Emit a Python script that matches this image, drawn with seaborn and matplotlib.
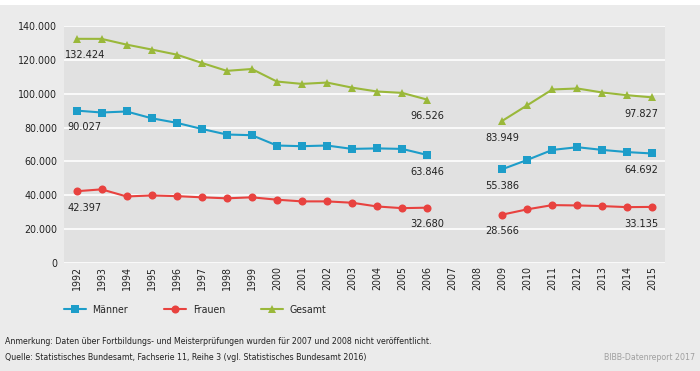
import numpy as np
import pandas as pd
import seaborn as sns
import matplotlib.pyplot as plt
from matplotlib.ticker import FuncFormatter

# Data (2007 and 2008 not published)
years = list(range(1992, 2016))
maenner = [90027, 88900, 89500, 85500, 82800, 79200, 75900, 75500, 69400, 69000, 69400, 67400,
           67700, 67400, 63846, None, None, 55386, 60900, 66800, 68400, 66800, 65500, 64692]
frauen = [42397, 43500, 39300, 39900, 39500, 38800, 38200, 38800, 37400, 36400, 36400, 35600,
          33400, 32400, 32680, None, None, 28566, 31700, 34200, 34000, 33600, 33000, 33135]
gesamt = [132424, 132400, 129000, 126100, 123100, 118200, 113500, 114600, 107200, 105800, 106600, 103600,
          101300, 100500, 96526, None, None, 83949, 93200, 102500, 103100, 100700, 99100, 97827]
labelled_years = [1992, 2006, 2009, 2015]

series = ['Männer', 'Frauen', 'Gesamt']
colors = {'Männer': '#1d9dc9', 'Frauen': '#e8423f', 'Gesamt': '#9ab83a'}
markers = {'Männer': 's', 'Frauen': 'o', 'Gesamt': '^'}
msize = {'Männer': 5.4, 'Frauen': 5.8, 'Gesamt': 6.0}

df = pd.DataFrame({'Jahr': years, 'Männer': maenner, 'Frauen': frauen, 'Gesamt': gesamt})
df[series] = df[series].astype(float)
df['pos'] = np.arange(len(years))

sns.set_theme(style='white')
plt.rcParams['font.family'] = ['DejaVu Sans']
plt.rcParams['font.stretch'] = 'condensed'

fig = plt.figure(figsize=(7, 3.71), dpi=100, facecolor='#ebebeb')
ax = fig.add_axes([64 / 700, 1 - 263 / 371, 601 / 700, 237 / 371])
ax.set_facecolor('#e1e1e1')

for name in series:
    # plot each contiguous segment so the gap stays visible
    for seg in (df[df['Jahr'] <= 2006], df[df['Jahr'] >= 2009]):
        sns.lineplot(data=seg, x='pos', y=name, ax=ax, color=colors[name], marker=markers[name],
                     markersize=msize[name], markeredgewidth=0, linewidth=1.5, label=None)

for name in series:
    for yr in labelled_years:
        row = df[df['Jahr'] == yr].iloc[0]
        dx = 0
        if yr == 1992:
            dx = 6
        elif yr == 2015:
            dx = -8
        txt = f"{int(row[name]):,}".replace(',', '.')
        ax.annotate(txt, (row['pos'], row[name]), xytext=(dx, -12), textcoords='offset points',
                    ha='center', va='center', fontsize=7.8, color='#222222')

ax.set_xlim(-0.5, len(years) - 0.5)
ax.set_ylim(0, 140000)
ax.set_yticks(range(0, 140001, 20000))
ax.yaxis.set_major_formatter(FuncFormatter(lambda v, p: f"{int(v):,}".replace(',', '.')))
ax.set_xticks(df['pos'])
ax.set_xticklabels([str(y) for y in years], rotation=90)
ax.tick_params(axis='both', length=0, labelsize=7.6, colors='#222222')
ax.tick_params(axis='x', pad=2)
ax.tick_params(axis='y', pad=5)
ax.grid(axis='y', color='white', linewidth=1.2)
ax.set_axisbelow(True)
for s in ax.spines.values():
    s.set_visible(False)
ax.set_xlabel('')
ax.set_ylabel('')

handles = [plt.Line2D([], [], color=colors[n], marker=markers[n], markersize=msize[n], markeredgewidth=0,
                      linewidth=1.5) for n in series]
fig.legend(handles, series, loc='center left', bbox_to_anchor=(64 / 700, 1 - 310 / 371), ncol=3,
           frameon=False, fontsize=7.6, handlelength=2.1, columnspacing=3.4, handletextpad=0.6,
           borderpad=0, borderaxespad=0)

fig.text(5 / 700, 1 - 342 / 371, 'Anmerkung: Daten über Fortbildungs- und Meisterprüfungen wurden für 2007 und 2008 nicht veröffentlicht.',
         fontsize=6.3, color='#222222', va='center', ha='left')
fig.text(5 / 700, 1 - 358 / 371, 'Quelle: Statistisches Bundesamt, Fachserie 11, Reihe 3 (vgl. Statistisches Bundesamt 2016)',
         fontsize=6.3, color='#222222', va='center', ha='left')
fig.text(695 / 700, 1 - 358 / 371, 'BIBB-Datenreport 2017', fontsize=6.3, color='#a0a0a0', va='center', ha='right')

# white strip at the top
fig.patches.append(plt.Rectangle((0, 1 - 5 / 371), 1, 5 / 371, transform=fig.transFigure,
                                 facecolor='white', edgecolor='none'))

fig.savefig('out.png', dpi=100, facecolor=fig.get_facecolor())
